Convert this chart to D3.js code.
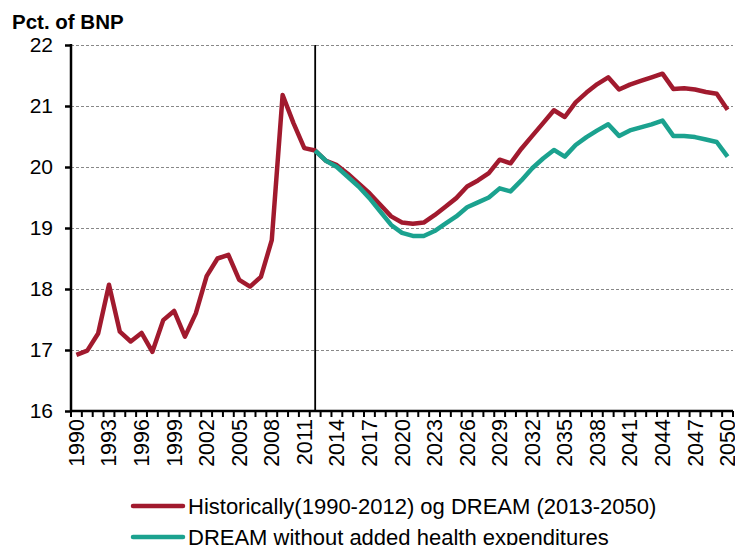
<!DOCTYPE html>
<html>
<head>
<meta charset="utf-8">
<script src="https://cdn.jsdelivr.net/npm/d3@7"></script>
<style>
  body { margin: 0; background: #fff; }
  text { font-family: "Liberation Sans", Arial, sans-serif; }
</style>
</head>
<body>
<div id="chart"></div>
<script>
// years 1990-2050
const years = d3.range(1990, 2051);

// historical 1990-2012 + DREAM 2013-2050
const historic = [16.92, 16.99, 17.27, 18.07, 17.30, 17.14, 17.28, 16.97, 17.49, 17.64,
  17.22, 17.60, 18.21, 18.50, 18.56, 18.15, 18.04, 18.20, 18.80, 21.18,
  20.72, 20.31, 20.27,
  20.10, 20.03, 19.89, 19.73, 19.57, 19.38, 19.19, 19.09, 19.07, 19.09,
  19.21, 19.35, 19.49, 19.68, 19.78, 19.90, 20.12, 20.06, 20.30, 20.51,
  20.72, 20.93, 20.82, 21.06, 21.22, 21.36, 21.47, 21.27, 21.35, 21.41,
  21.47, 21.53, 21.28, 21.29, 21.27, 21.23, 21.20, 20.94];

// DREAM without added health expenditures, 2012-2050
const dreamYears = d3.range(2012, 2051);
const dreamNoHealth = [20.27,
  20.10, 20.00, 19.84, 19.68, 19.49, 19.27, 19.05, 18.92, 18.87, 18.87,
  18.95, 19.07, 19.19, 19.34, 19.42, 19.50, 19.65, 19.60, 19.78, 19.98,
  20.14, 20.28, 20.17, 20.36, 20.49, 20.60, 20.70, 20.51, 20.60, 20.65,
  20.70, 20.76, 20.51, 20.51, 20.49, 20.45, 20.41, 20.17];

const yTicks = [16, 17, 18, 19, 20, 21, 22];
const labelYears = years.filter(y => (y - 1990) % 3 === 0);
const splitYear = 2012;

const seriesNames = ["Historically(1990-2012) og DREAM (2013-2050)",
  "DREAM without added health expenditures"];
const colors = ["#A11A2E", "#1BA28F"];

const width = 735, height = 545;
const margin = {top: 45, right: 2, bottom: 134, left: 71};

const svg = d3.select("#chart").append("svg")
    .attr("width", width)
    .attr("height", height);

const x = d3.scalePoint()
    .domain(years)
    .range([margin.left, width - margin.right])
    .padding(0.5);
const step = x.step();

const y = d3.scaleLinear()
    .domain([16, 22])
    .range([height - margin.bottom, margin.top]);

// gridlines
svg.append("g")
  .selectAll("line")
  .data(yTicks.filter(d => d > 16))
  .join("line")
    .attr("x1", margin.left)
    .attr("x2", width - margin.right)
    .attr("y1", d => y(d) + 0.5)
    .attr("y2", d => y(d) + 0.5)
    .attr("stroke", "#888")
    .attr("stroke-width", 1)
    .attr("stroke-dasharray", "3,2");

// y axis
const yAxis = svg.append("g")
    .attr("transform", `translate(${margin.left},0)`)
    .call(d3.axisLeft(y).tickValues(yTicks).tickSize(6).tickPadding(12).tickFormat(d3.format("d")));
yAxis.select(".domain").attr("stroke", "#000").attr("stroke-width", 2.5).attr("d", `M0,${margin.top - 1}V${y(16)}`);
yAxis.selectAll(".tick line").attr("stroke", "#000").attr("stroke-width", 2.5);
yAxis.selectAll(".tick text").attr("font-size", 21).attr("fill", "#000")
    .attr("font-family", "Liberation Sans, Arial, sans-serif");

// x axis: ticks at category boundaries
const xg = svg.append("g").attr("transform", `translate(0,${y(16)})`);
xg.append("line")
    .attr("x1", margin.left).attr("x2", width - margin.right)
    .attr("stroke", "#000").attr("stroke-width", 2.5);
xg.selectAll("line.tk")
  .data(d3.range(years.length + 1))
  .join("line")
    .attr("class", "tk")
    .attr("x1", i => margin.left + i * step)
    .attr("x2", i => margin.left + i * step)
    .attr("y1", 0).attr("y2", 6)
    .attr("stroke", "#000").attr("stroke-width", 2);
xg.selectAll("text")
  .data(labelYears)
  .join("text")
    .attr("transform", d => `translate(${x(d) + 7.5},8) rotate(-90)`)
    .attr("text-anchor", "end")
    .attr("font-size", 21.5)
    .attr("fill", "#000")
    .text(d => d);

// vertical split line
svg.append("line")
    .attr("x1", x(splitYear)).attr("x2", x(splitYear))
    .attr("y1", margin.top).attr("y2", y(16))
    .attr("stroke", "#000").attr("stroke-width", 1.8);

const line = d3.line().x(d => x(d[0])).y(d => y(d[1]));

svg.append("path")
    .datum(years.map((yr, i) => [yr, historic[i]]))
    .attr("fill", "none")
    .attr("stroke", colors[0])
    .attr("stroke-width", 4.5)
    .attr("stroke-linejoin", "round")
    .attr("d", line);

svg.append("path")
    .datum(dreamYears.map((yr, i) => [yr, dreamNoHealth[i]]))
    .attr("fill", "none")
    .attr("stroke", colors[1])
    .attr("stroke-width", 4.5)
    .attr("stroke-linejoin", "round")
    .attr("d", line);

// title
svg.append("text")
    .attr("x", 12).attr("y", 29)
    .attr("font-size", 20.5)
    .attr("font-weight", "bold")
    .attr("fill", "#000")
    .text("Pct. of BNP");

// legend
const legend = svg.append("g")
  .selectAll("g")
  .data(seriesNames)
  .join("g")
    .attr("transform", (d, i) => `translate(133,${506 + i * 31})`);
legend.append("line")
    .attr("x1", 0).attr("x2", 50)
    .attr("stroke", (d, i) => colors[i])
    .attr("stroke-width", 4.5)
    .attr("stroke-linecap", "round");
legend.append("text")
    .attr("x", 55).attr("y", 7.5)
    .attr("font-size", 22)
    .attr("fill", "#000")
    .text(d => d);
</script>
</body>
</html>
